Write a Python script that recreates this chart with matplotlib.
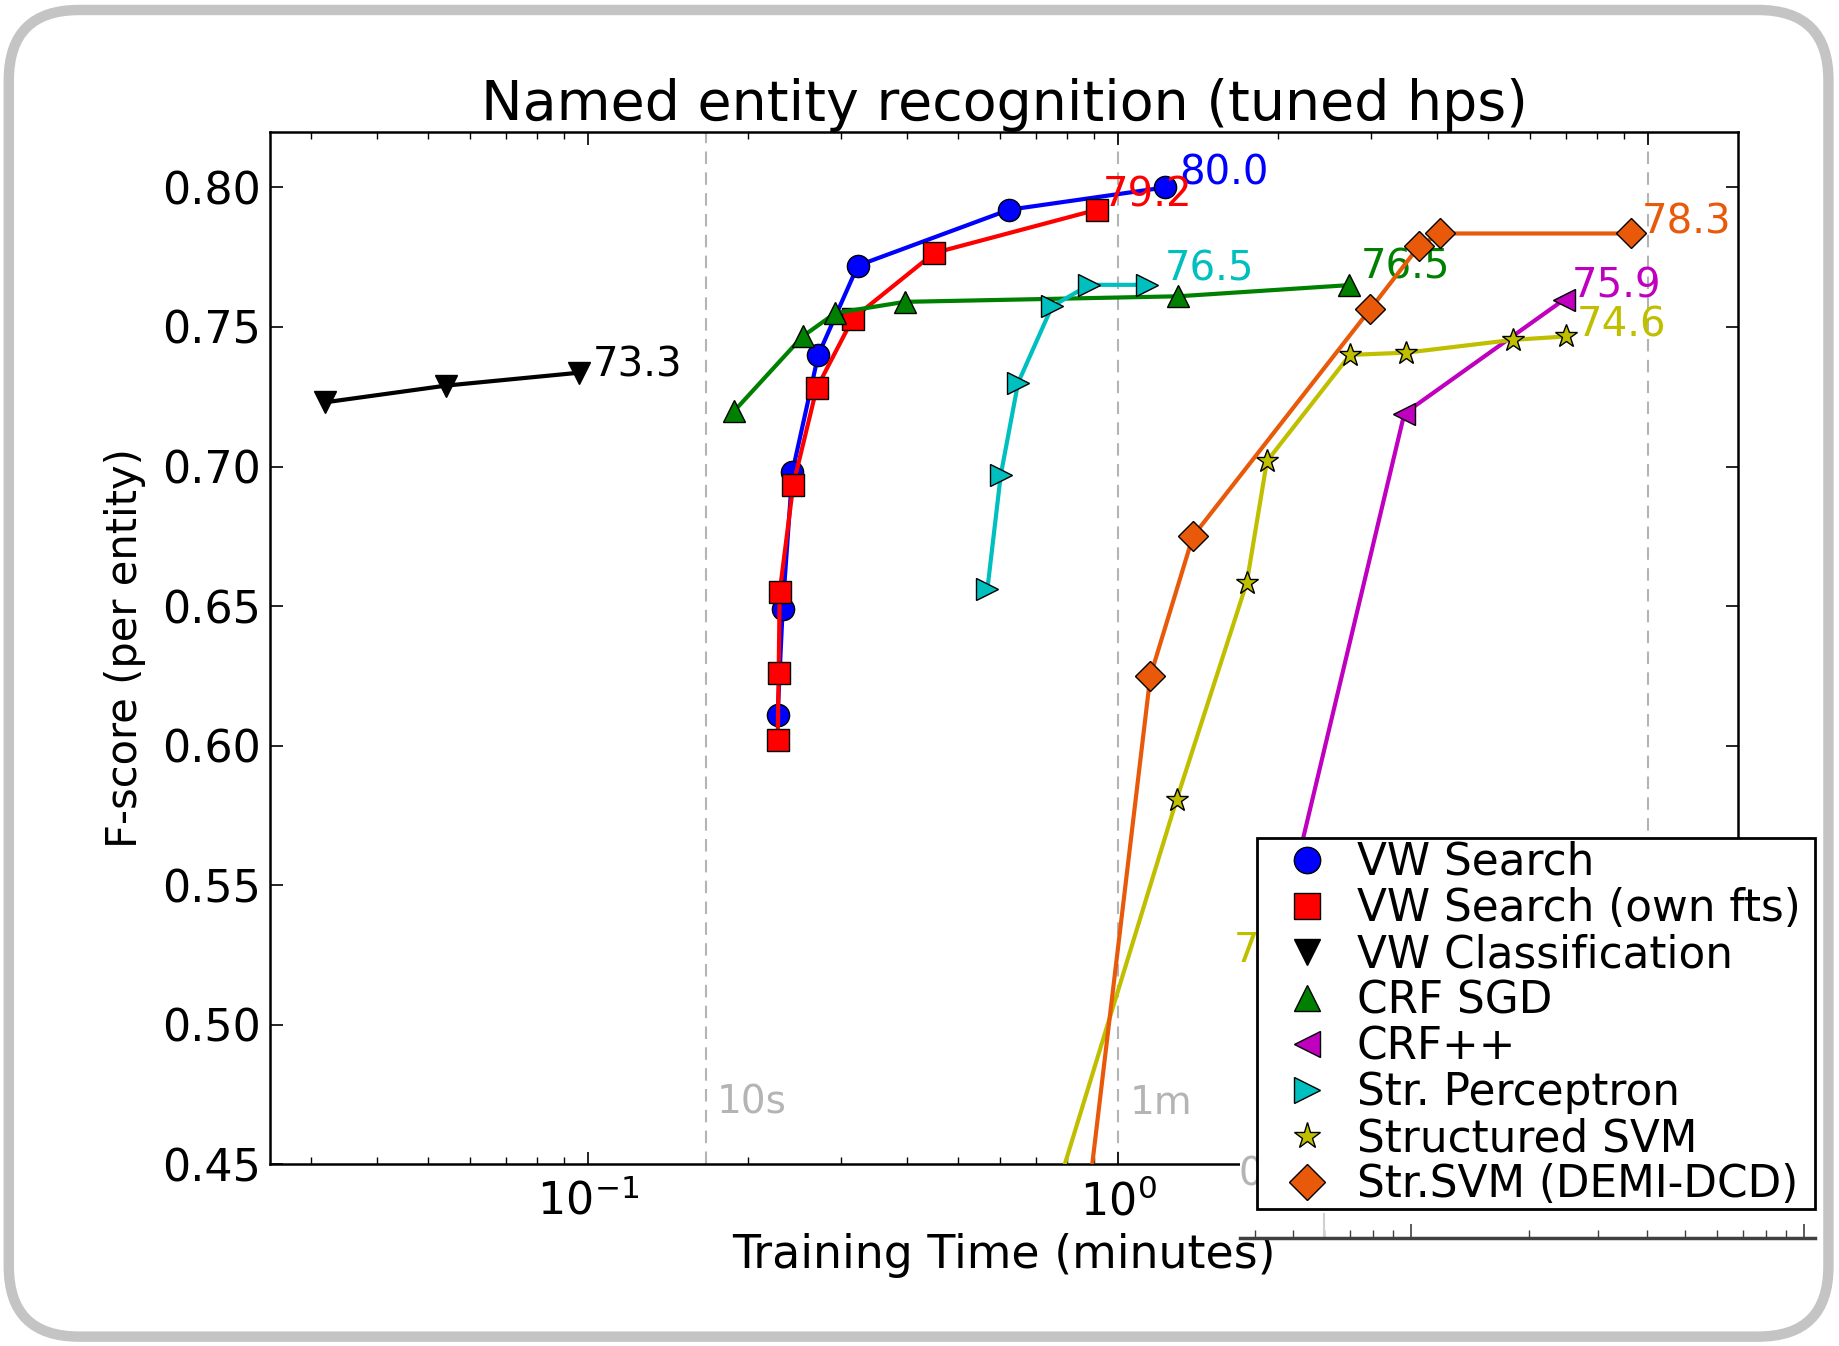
import matplotlib.pyplot as plt
from matplotlib.lines import Line2D
from matplotlib.patches import FancyBboxPatch

plt.rcParams['font.family'] = ['DejaVu Sans']

# training time (minutes) and F-score per method
vw_search_t = [0.228, 0.233, 0.243, 0.272, 0.323, 0.623, 1.226]
vw_search_f = [0.611, 0.649, 0.698, 0.740, 0.772, 0.792, 0.800]

vw_own_t = [0.228, 0.229, 0.230, 0.244, 0.270, 0.316, 0.450, 0.912]
vw_own_f = [0.602, 0.626, 0.655, 0.6935, 0.728, 0.753, 0.7765, 0.792]

vw_cls_t = [0.0319, 0.054, 0.096]
vw_cls_f = [0.723, 0.729, 0.7336]

crf_sgd_t = [0.189, 0.254, 0.293, 0.396, 1.30, 2.73]
crf_sgd_f = [0.720, 0.7466, 0.755, 0.759, 0.761, 0.765]

crfpp_t = [2.01, 3.47, 6.93]
crfpp_f = [0.530, 0.719, 0.7597]

perc_t = [0.567, 0.601, 0.648, 0.751, 0.883, 1.135]
perc_f = [0.656, 0.697, 0.730, 0.7574, 0.7651, 0.7651]

ssvm_t = [0.659, 1.29, 1.75, 1.91, 2.74, 3.50, 5.57, 7.0]
ssvm_f = [0.40, 0.5806, 0.6584, 0.7019, 0.740, 0.7408, 0.7454, 0.7466]

demi_t = [0.832, 1.151, 1.385, 2.99, 3.70, 4.05, 9.27]
demi_f = [0.40, 0.6249, 0.675, 0.7563, 0.779, 0.7835, 0.7835]

names = ["VW Search", "VW Search (own fts)", "VW Classification", "CRF SGD",
         "CRF++", "Str. Perceptron", "Structured SVM", "Str.SVM (DEMI-DCD)"]
end_labels = ["80.0", "79.2", "73.3", "76.5", "75.9", "76.5", "74.6", "78.3"]

time_marks = [10 / 60, 1, 10]
time_mark_labels = ["10s", "1m", "10m"]

yticks = [0.45, 0.50, 0.55, 0.60, 0.65, 0.70, 0.75, 0.80]

colors = ['b', 'r', 'k', 'g', 'm', 'c', 'y', '#e85a0a']
markers = ['o', 's', 'v', '^', '<', '>', '*', 'D']
sizes = [16, 16, 16, 16, 16, 16, 17, 15]
offsets = [(10, 10), (4, 10), (10, 5), (8, 13), (6, 10), (13, 11), (8, 8), (8, 8)]
series = [(vw_search_t, vw_search_f), (vw_own_t, vw_own_f), (vw_cls_t, vw_cls_f),
          (crf_sgd_t, crf_sgd_f), (crfpp_t, crfpp_f), (perc_t, perc_f),
          (ssvm_t, ssvm_f), (demi_t, demi_f)]

fig = plt.figure(figsize=(18.39, 13.46), dpi=100)

# rounded slide frame
bg = fig.add_axes([0, 0, 1, 1], zorder=-1)
bg.set_xlim(0, 1568)
bg.set_ylim(1148, 0)
bg.axis('off')
bg.add_patch(FancyBboxPatch((7.5, 8.5), 1551.5, 1131.5,
                            boxstyle="round,pad=0,rounding_size=60",
                            fc='none', ec='#c4c4c4', lw=7.5))

ax = fig.add_axes([0.1467, 0.135, 0.7985, 0.7666], zorder=1)

for tm, lab in zip(time_marks, time_mark_labels):
    ax.axvline(tm, color='#b4b4b4', lw=1.5, ls=(0, (6, 4)), zorder=1)
    ax.text(tm * 1.05, 0.472, lab, color='#b4b4b4', fontsize=28, va='center')

for (t, f), name, c, mk, ms, lab, off in zip(series, names, colors, markers,
                                             sizes, end_labels, offsets):
    ax.plot(t, f, color=c, lw=3, marker=mk, ms=ms, mec='k', mew=1, zorder=3)
    ax.annotate(lab, (t[-1], f[-1]), xytext=off, textcoords='offset points',
                color=c, fontsize=29, va='center', ha='left')

ax.set_xscale('log')
ax.set_xlim(0.0251, 14.8)
ax.set_ylim(0.45, 0.8197)
ax.set_yticks(yticks)
ax.set_yticklabels([f"{v:.2f}" for v in yticks])
ax.tick_params(which='both', direction='in', top=True, right=True, labelsize=32)
ax.tick_params(which='major', length=9, width=1.2)
ax.tick_params(which='minor', length=5, width=1)
ax.tick_params(axis='x', pad=11)
ax.tick_params(axis='y', pad=6)
for s in ax.spines.values():
    s.set_linewidth(1.8)
ax.set_title("Named entity recognition (tuned hps)", fontsize=40, pad=6)
ax.set_xlabel("Training Time (minutes)", fontsize=33, labelpad=6)
ax.set_ylabel("F-score (per entity)", fontsize=30, labelpad=12)

# pasted legend panel with its own axis line
ax2 = fig.add_axes([0.6741, 0.0805, 0.3131, 0.2967], zorder=3)
ax2.set_facecolor('white')
ax2.set_xscale('log')
ax2.set_xlim(3.66, 107.2)
ax2.set_ylim(0, 1)
ax2.set_yticks([])
for side in ['top', 'left', 'right']:
    ax2.spines[side].set_visible(False)
ax2.spines['bottom'].set_color('#404040')
ax2.spines['bottom'].set_linewidth(2.5)
ax2.tick_params(which='both', direction='in', labelbottom=False, color='#404040')
ax2.tick_params(which='major', length=10, width=1.2)
ax2.tick_params(which='minor', length=6, width=1)
ax2.plot([6, 6], [0, 0.06], color='#d0d0d0', lw=1.5, clip_on=False)

# cut-off leftovers peeking out beside the legend box
ax2.text(-0.01, 0.718, "7", color='y', fontsize=29, va='center',
         transform=ax2.transAxes, clip_on=False)
ax2.text(-0.002, 0.157, "0", color='#b4b4b4', fontsize=28, va='center',
         transform=ax2.transAxes, clip_on=False)

handles = [Line2D([], [], ls='none', marker=mk, color=c, mec='k', mew=1, ms=ms + 3)
           for c, mk, ms in zip(colors, markers, sizes)]
leg = ax2.legend(handles, names, loc='upper left',
                 bbox_to_anchor=(0.0305, 0.05, 0.9695, 0.95),
                 mode='expand', borderaxespad=0, fontsize=31.5, labelspacing=0.07,
                 handlelength=2.15, handletextpad=0.06, borderpad=0.06,
                 fancybox=False, framealpha=1)
leg.get_frame().set_edgecolor('k')
leg.get_frame().set_linewidth(2)

fig.savefig("out.png", dpi=100)
